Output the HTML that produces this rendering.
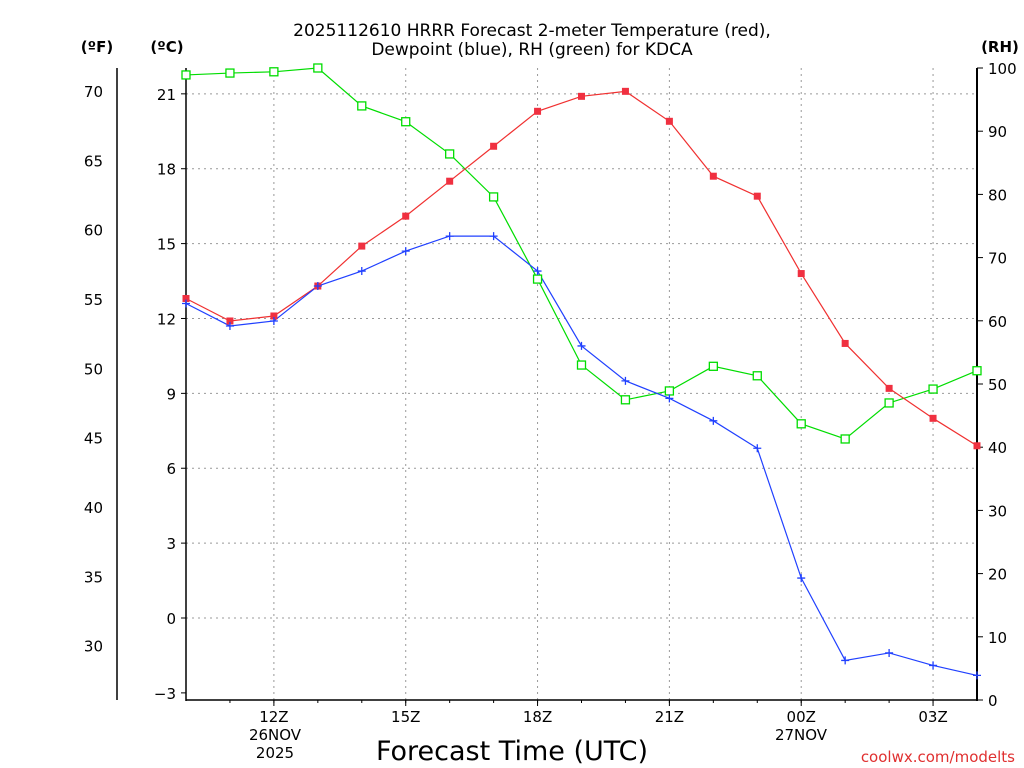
<!DOCTYPE html>
<html><head><meta charset="utf-8">
<style>
html,body{margin:0;padding:0;background:#fff;}
svg{display:block;font-family:"DejaVu Sans","Liberation Sans",sans-serif;}
</style></head>
<body>
<svg id="chart" width="1024" height="768" viewBox="0 0 1024 768" xmlns="http://www.w3.org/2000/svg">
<rect width="1024" height="768" fill="#fff"/>
<g id="grid"></g>
<g id="axes"></g>
<g id="series"></g>
<text x="532" y="36" font-size="17" text-anchor="middle">2025112610 HRRR Forecast 2-meter Temperature (red),</text>
<text x="532" y="55" font-size="17" text-anchor="middle">Dewpoint (blue), RH (green) for KDCA</text>
<text x="97" y="52" font-size="15" font-weight="bold" text-anchor="middle">(ºF)</text>
<text x="167" y="52" font-size="15" font-weight="bold" text-anchor="middle">(ºC)</text>
<text x="1000" y="52" font-size="15" font-weight="bold" text-anchor="middle">(RH)</text>
<text x="512" y="760" font-size="27" text-anchor="middle">Forecast Time (UTC)</text>
<text x="1015" y="762" font-size="15" fill="#e03030" text-anchor="end">coolwx.com/modelts</text>
</svg>
<script>
const hours = [10,11,12,13,14,15,16,17,18,19,20,21,22,23,24,25,26,27,28];
const tempC = [12.8,11.9,12.1,13.3,14.9,16.1,17.5,18.9,20.3,20.9,21.1,19.9,17.7,16.9,13.8,11.0,9.2,8.0,6.9];
const dewC = [12.6,11.7,11.9,13.3,13.9,14.7,15.3,15.3,13.9,10.9,9.5,8.8,7.9,6.8,1.6,-1.7,-1.4,-1.9,-2.3];
const rh = [98.9,99.2,99.4,100,94.0,91.5,86.4,79.6,66.6,53.0,47.5,48.9,52.8,51.3,43.7,41.3,47.0,49.2,52.1];
const cTicks = [-3,0,3,6,9,12,15,18,21];
const fTicks = [30,35,40,45,50,55,60,65,70];
const rhTicks = [0,10,20,30,40,50,60,70,80,90,100];
const xTickHours = [12,15,18,21,24,27];
const xTickLabels = ["12Z","15Z","18Z","21Z","00Z","03Z"];

const NS="http://www.w3.org/2000/svg";
const L=186,R=977,T=68,B=700;
const xS=h=>L+(h-10)*(R-L)/18;
const cS=c=>618-24.96*c;
const fS=f=>cS((f-32)/1.8);
const rS=r=>B-(B-T)*r/100;
function mk(tag,attrs,parent,text){const e=document.createElementNS(NS,tag);for(const k in attrs)e.setAttribute(k,attrs[k]);if(text!==undefined)e.textContent=text;parent.appendChild(e);return e;}
const grid=document.getElementById('grid'),axes=document.getElementById('axes'),ser=document.getElementById('series');

cTicks.forEach(c=>{const y=cS(c);
 if(c>=0){const g=mk('line',{x1:L,x2:R,y1:y,y2:y,stroke:'#999','stroke-dasharray':'2,4','stroke-width':1},grid);
 
 }
 mk('line',{x1:L-5,x2:L,y1:y,y2:y,stroke:'#000'},axes);
 const t=mk('text',{x:L-10,y:y+6,'font-size':15,'text-anchor':'end'},axes,String(c).replace('-','−'));
 
 });
fTicks.forEach(f=>{const y=fS(f);
 const t=mk('text',{x:103,y:y+6,'font-size':15,'text-anchor':'end'},axes,f);
 
 });
rhTicks.forEach(r=>{const y=rS(r);
 mk('line',{x1:R,x2:R+6,y1:y,y2:y,stroke:'#000'},axes);
 const t=mk('text',{x:988,y:y+6,'font-size':15},axes,r);
 
 });
xTickHours.forEach((h,i)=>{const x=xS(h);
 const g=mk('line',{x1:x,x2:x,y1:T,y2:B,stroke:'#999','stroke-dasharray':'2,4'},grid);
 
 
 mk('line',{x1:x,x2:x,y1:B,y2:B+6,stroke:'#000'},axes);
 const t=mk('text',{x:x,y:722,'font-size':15,'text-anchor':'middle'},axes,xTickLabels[i]);
 
 });
for(let h=11;h<=27;h++){mk('line',{x1:xS(h),x2:xS(h),y1:B,y2:B+3,stroke:'#000'},axes);}
[["26NOV",275,740],["2025",275,758],["27NOV",801,740]].forEach(a=>{const t=mk('text',{x:a[1],y:a[2],'font-size':15,'text-anchor':'middle'},axes,a[0]);
 
 });
mk('line',{x1:L,x2:L,y1:T,y2:B+1,stroke:'#000','stroke-width':1.5},axes);
mk('line',{x1:R,x2:R,y1:T,y2:B+1,stroke:'#000','stroke-width':2},axes);
mk('line',{x1:L,x2:R,y1:B,y2:B,stroke:'#000','stroke-width':1.5},axes);
mk('line',{x1:117,x2:117,y1:T,y2:B,stroke:'#000','stroke-width':1.5},axes);

function line(vals,sc,color,name){const pts=vals.map((v,i)=>xS(hours[i])+','+sc(v)).join(' ');
 const p=mk('polyline',{points:pts,fill:'none',stroke:color,'stroke-width':1.2},ser);
 
 }
line(rh,rS,'#00dd00','rh-line');
line(tempC,cS,'#f03030','temperature-line');
line(dewC,cS,'#2040ff','dewpoint-line');
rh.forEach((v,i)=>{const r=mk('rect',{x:xS(hours[i])-4,y:rS(v)-4,width:8,height:8,fill:'#fff',stroke:'#00dd00','stroke-width':1.3},ser);
 
 });
tempC.forEach((v,i)=>{const r=mk('rect',{x:xS(hours[i])-3.5,y:cS(v)-3.5,width:7,height:7,fill:'#f03040'},ser);
 
 });
dewC.forEach((v,i)=>{const x=xS(hours[i]),y=cS(v);
 const p=mk('path',{d:`M${x-4},${y}H${x+4}M${x},${y-4}V${y+4}`,stroke:'#2040ff','stroke-width':1.3},ser);
 
 });
</script>
</body></html>
